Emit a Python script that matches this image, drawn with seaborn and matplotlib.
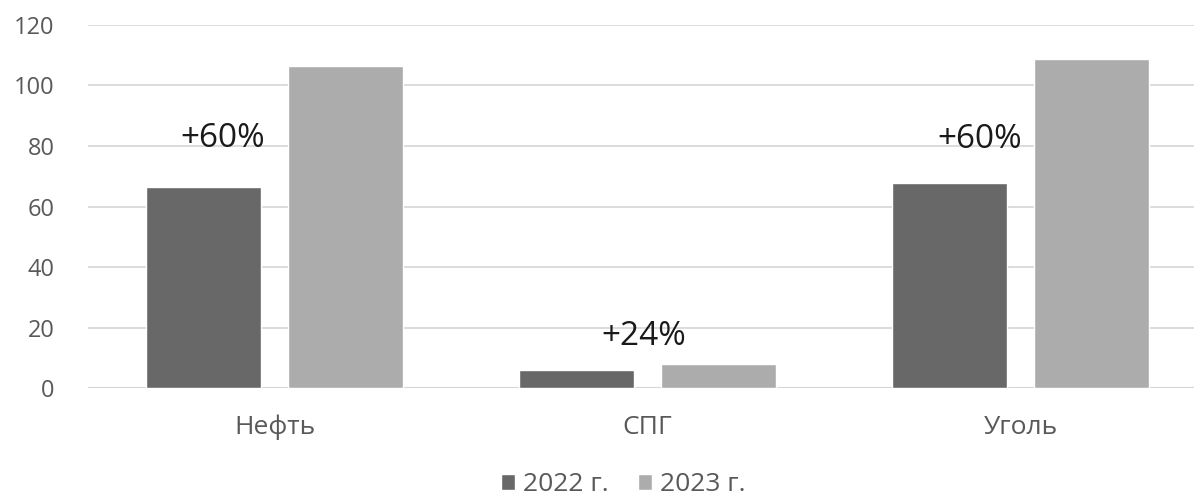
import matplotlib
matplotlib.use("Agg")
import matplotlib.pyplot as plt
import seaborn as sns
import pandas as pd

# data
categories = ["Нефть", "СПГ", "Уголь"]
years = ["2022 г.", "2023 г."]
values_2022 = [66.3, 6.1, 67.7]
values_2023 = [106.5, 7.9, 108.6]
growth_labels = ["+60%", "+24%", "+60%"]

# where each growth label sits (category offset, y value)
label_dx = [-0.14, -0.01, -0.11]
label_y = [82.6, 17.0, 82.0]

df = pd.DataFrame({
    "category": categories * 2,
    "year": [years[0]] * 3 + [years[1]] * 3,
    "value": values_2022 + values_2023,
})

sns.set_theme(style="white")
plt.rcParams["font.family"] = ["Open Sans", "DejaVu Sans"]

fig = plt.figure(figsize=(11.94, 5.01), dpi=100)
ax = fig.add_axes([88 / 1194, 1 - 388.3 / 501, (1194 - 88) / 1194, (388.3 - 24.7) / 501])

sns.barplot(
    data=df, x="category", y="value", hue="year",
    palette=["#686868", "#acacac"], width=0.762, gap=0.187,
    saturation=1, errorbar=None, ax=ax, zorder=3,
)

ax.set_ylim(0, 120)
ax.set_xlim(-0.5, 2.465)
ax.set_yticks(range(0, 121, 20))
ax.yaxis.grid(True, color="#d9d9d9", linewidth=1.3, zorder=0)
ax.axhline(0, color="#d4d4d4", linewidth=2.2, zorder=2)
for s in ax.spines.values():
    s.set_visible(False)

ax.set_xlabel("")
ax.set_ylabel("")
ax.tick_params(axis="y", labelsize=17, labelcolor="#595959", pad=24, length=0)
ax.tick_params(axis="x", labelsize=19, labelcolor="#595959", pad=19, length=0)

for i, txt in enumerate(growth_labels):
    ax.text(i + label_dx[i], label_y[i], txt, ha="center", va="center",
            fontsize=24, color="#1a1a1a", zorder=4)

ax.legend_.remove()
handles, lbls = ax.get_legend_handles_labels()
fig.legend(
    handles, lbls, loc="center", bbox_to_anchor=(0.522, 0.033), ncol=2,
    frameon=False, fontsize=19, labelcolor="#595959",
    handlelength=0.55, handleheight=0.55, handletextpad=0.3, columnspacing=1.1,
)

fig.savefig("out.png", dpi=100)
plt.close(fig)
